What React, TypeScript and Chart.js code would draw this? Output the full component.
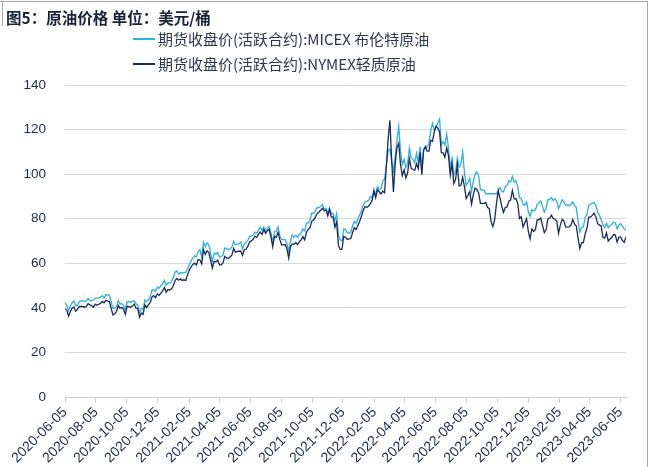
import React, { useEffect, useRef } from "react";
import { Chart, registerables } from "chart.js";

Chart.register(...registerables);

// ---- data ----
const START_DATE = "2020-06-05";
const STEP_DAYS = 3.5; // two observations per week (Fri / Tue)

const xTickLabels = [
  "2020-06-05", "2020-08-05", "2020-10-05", "2020-12-05",
  "2021-02-05", "2021-04-05", "2021-06-05", "2021-08-05",
  "2021-10-05", "2021-12-05", "2022-02-05", "2022-04-05",
  "2022-06-05", "2022-08-05", "2022-10-05", "2022-12-05",
  "2023-02-05", "2023-04-05", "2023-06-05",
];

const Y_MIN = 0;
const Y_MAX = 140;
const Y_STEP = 20;

const seriesNames = [
  "期货收盘价(活跃合约):MICEX 布伦特原油",
  "期货收盘价(活跃合约):NYMEX轻质原油",
];

// MICEX Brent
const micex2020 = [
  42.3, 41.2, 38.7, 40.9, 42.2, 43.1, 41.0, 41.2,
  42.8, 43.1, 43.2, 42.9, 43.1, 44.3, 43.3, 43.2, 43.5,
  44.4, 44.4, 44.5, 44.8, 45.5, 44.4, 45.9, 45.8,
  45.6, 42.7, 39.8, 39.8, 40.5, 43.2, 41.7, 41.9, 41.0,
  39.3, 42.7, 42.9, 42.45, 42.9, 43.2, 41.8, 41.2, 37.9,
  39.7, 39.45, 43.6, 42.8, 43.75, 44.96, 48.0, 48.2,
  47.4, 49.25, 48.8, 50.0, 50.8, 52.3, 50.1, 51.2, 51.1,
  51.8,
];
const micex2021 = [
  53.6, 56.0, 56.6, 55.1, 55.9, 55.4, 55.9, 55.9,
  57.5, 59.3, 61.1, 62.4, 63.35, 62.9, 65.4, 66.1,
  62.7, 69.4, 67.5, 69.2, 68.4, 64.5, 60.8, 64.6, 64.1,
  64.9, 62.7, 62.95, 63.7, 66.8, 66.6, 66.1, 66.4, 67.25,
  69.9, 68.3, 68.55, 68.7, 69.5, 66.4, 68.65, 69.6,
  70.25, 71.9, 72.2, 72.7, 73.99, 73.5, 74.8, 76.2, 74.8,
  76.2, 74.5, 75.55, 76.5, 73.6, 69.35, 74.1, 74.5, 76.3,
  72.4, 70.7, 70.6, 70.6, 69.0, 65.2, 70.05, 72.7, 71.6,
  72.6, 71.7, 72.9, 73.6, 75.3, 74.4, 78.1, 78.1,
  79.3, 82.6, 82.4, 83.4, 84.9, 85.1, 85.5, 86.4, 84.4,
  84.7, 82.7, 84.8, 82.2, 82.4, 78.9, 82.3, 72.7, 70.6,
  69.9, 75.4, 75.15, 73.7, 73.5, 73.98, 76.85, 78.9, 77.8,
];
const micex2022 = [
  80.0, 81.75, 83.7, 86.1, 87.5, 87.9, 88.2, 90.0,
  89.2, 93.3, 90.8, 94.4, 93.3, 93.5, 96.8, 97.9,
  104.0, 110.0, 111.5, 106.0, 101.5, 107.9, 115.5, 121.5, 110.2,
  104.4, 106.6, 102.8, 104.6, 111.7, 107.25, 106.65, 104.99, 109.3,
  104.97, 112.4, 102.5, 111.55, 111.9, 112.55, 113.6, 119.4, 122.8,
  119.7, 121.0, 123.0, 124.8, 113.1, 114.65, 113.1, 117.98,
  111.6, 102.8, 107.0, 99.5, 101.2, 107.35, 103.2, 104.4, 110.0,
  100.5, 94.9, 96.3, 98.15, 92.3, 96.7, 100.2, 100.99, 99.3,
  93.0, 92.8, 92.8, 91.2, 91.2, 91.2, 91.2, 91.2, 91.2,
  91.2, 92.5, 94.0, 92.5, 92.0, 94.5, 95.0, 97.0,
  96.5, 99.0, 96.5, 97.0, 94.5, 89.5, 89.0, 86.5, 86.0,
  87.5, 83.0, 81.0, 84.0, 83.5, 84.0, 86.5, 87.0, 88.0,
];
const micex2023 = [
  85.5, 83.0, 84.5, 88.5, 88.8, 89.5, 88.2, 89.0, 87.8,
  84.5, 86.5, 88.5, 87.5, 86.0, 86.3, 85.8, 86.5,
  87.5, 86.0, 85.0, 79.0, 74.0, 76.0, 76.5, 80.5, 82.0,
  86.0, 86.5, 87.0, 87.3, 86.0, 83.0, 81.5, 79.5,
  77.5, 76.0, 78.0, 76.0, 77.0, 77.5, 78.5, 78.0, 75.5,
  77.0, 77.8, 76.5, 75.5, 74.8,
];

// NYMEX WTI
const nymex2020 = [
  39.6, 38.9, 36.3, 38.4, 39.8, 40.4, 38.5, 39.3,
  40.6, 40.6, 40.6, 40.3, 40.6, 41.9, 41.3, 41.0, 40.3,
  41.7, 41.2, 41.6, 42.0, 42.9, 42.3, 43.4, 43.0,
  42.8, 39.8, 36.8, 37.3, 38.3, 41.1, 39.8, 40.25, 39.3,
  37.05, 40.7, 40.6, 40.2, 40.9, 41.7, 39.85, 39.6, 35.8,
  37.7, 37.1, 41.4, 40.1, 41.4, 42.4, 44.9, 45.5,
  44.55, 46.3, 45.6, 46.6, 47.6, 49.1, 47.0, 48.2, 48.0,
  48.5,
];
const nymex2021 = [
  49.9, 52.2, 53.2, 52.4, 52.98, 52.3, 52.6, 52.2,
  54.8, 56.85, 58.4, 59.5, 60.05, 59.2, 61.7, 61.5,
  59.75, 66.1, 64.0, 65.6, 64.8, 61.4, 57.8, 60.97, 60.55,
  61.45, 59.3, 59.3, 60.2, 63.1, 62.4, 62.1, 62.9, 63.6,
  66.7, 64.9, 65.3, 65.4, 65.5, 63.6, 66.1, 66.3,
  67.7, 69.6, 70.05, 70.9, 72.1, 71.6, 73.1, 74.05, 72.98,
  75.2, 73.4, 74.6, 75.25, 71.8, 67.4, 72.1, 71.65, 73.95,
  70.6, 68.3, 68.3, 68.4, 66.6, 62.3, 67.5, 68.7, 68.5,
  69.3, 68.35, 69.7, 70.5, 71.97, 70.5, 73.98, 75.3,
  75.9, 78.9, 79.35, 80.6, 82.3, 83.0, 83.8, 84.65, 83.6,
  83.9, 81.3, 84.15, 80.8, 80.8, 76.1, 78.5, 68.15, 66.2,
  66.3, 72.05, 71.7, 70.7, 70.9, 71.1, 73.8, 75.98, 75.2,
];
const nymex2022 = [
  77.0, 78.9, 81.2, 83.8, 85.4, 85.1, 85.6, 86.8,
  88.2, 92.3, 89.4, 93.1, 92.1, 91.1, 92.4, 91.6,
  103.4, 115.7, 124.2, 106.3, 92.0, 104.7, 111.8, 113.9, 104.2,
  99.3, 101.96, 98.3, 100.6, 106.95, 102.6, 102.1, 101.7, 104.7,
  102.4, 109.8, 99.8, 110.5, 112.4, 110.3, 110.3, 115.1, 114.7,
  118.9, 121.5, 120.7, 118.9, 109.6, 109.5, 107.6, 111.8,
  108.4, 99.5, 104.8, 95.8, 97.6, 104.2, 94.7, 94.98, 98.6,
  94.4, 89.0, 90.5, 92.1, 86.5, 90.8, 93.7, 93.1, 91.6,
  86.9, 86.9, 86.8, 87.3, 85.1, 84.45, 78.7, 76.5, 79.5,
  86.5, 92.6, 89.35, 85.6, 82.8, 85.05, 85.3, 87.9,
  88.4, 92.6, 88.9, 88.96, 86.9, 80.1, 80.95, 76.3, 78.2,
  79.98, 74.25, 71.0, 75.4, 74.3, 75.2, 79.6, 79.5, 80.3,
];
const nymex2023 = [
  76.9, 73.8, 75.1, 79.9, 80.2, 81.6, 80.1, 79.7, 78.9,
  73.4, 77.1, 79.7, 79.1, 76.3, 76.2, 76.3, 77.1,
  79.7, 77.6, 76.7, 71.3, 66.7, 69.3, 69.3, 73.2, 75.7,
  80.7, 80.7, 81.5, 82.5, 80.9, 77.9, 77.1, 76.8,
  71.7, 71.3, 73.7, 70.0, 70.9, 71.55, 72.9, 72.7, 69.5,
  71.7, 71.7, 70.2, 69.4, 71.8,
];

const micexBrent = [...micex2020, ...micex2021, ...micex2022, ...micex2023];
const nymexWti = [...nymex2020, ...nymex2021, ...nymex2022, ...nymex2023];

// ---- helpers ----
const DAY_MS = 86400000;
const dayOffset = (s: string) =>
  Math.round((Date.parse(s) - Date.parse(START_DATE)) / DAY_MS);
const toPoints = (vals: number[]) => vals.map((y, i) => ({ x: i * STEP_DAYS, y }));

const COLOR_LIGHT = "#2eaee4";
const COLOR_DARK = "#1b2a5e";
const TEXT_DARK = "#1f2a48";

export default function App() {
  const canvasRef = useRef<HTMLCanvasElement | null>(null);

  useEffect(() => {
    if (!canvasRef.current) return;
    const tickDays = xTickLabels.map(dayOffset);
    const xMax = (Math.max(micexBrent.length, nymexWti.length) - 1) * STEP_DAYS;
    const chart = new Chart(canvasRef.current, {
      type: "line",
      data: {
        datasets: [
          {
            label: seriesNames[0],
            data: toPoints(micexBrent),
            borderColor: COLOR_LIGHT,
            backgroundColor: COLOR_LIGHT,
            borderWidth: 1.3,
            pointRadius: 0,
            tension: 0,
            order: 1,
          },
          {
            label: seriesNames[1],
            data: toPoints(nymexWti),
            borderColor: COLOR_DARK,
            backgroundColor: COLOR_DARK,
            borderWidth: 1.3,
            pointRadius: 0,
            tension: 0,
            order: 0,
          },
        ],
      },
      options: {
        animation: false,
        responsive: false,
        maintainAspectRatio: false,
        layout: { padding: { top: 85, right: 27, bottom: 0, left: 0 } },
        plugins: {
          legend: { display: false },
          tooltip: { enabled: false },
          title: { display: false },
        },
        scales: {
          x: {
            type: "linear",
            min: 0,
            max: xMax,
            afterBuildTicks: (scale: any) => {
              scale.ticks = tickDays.map((v) => ({ value: v }));
            },
            afterFit: (scale: any) => {
              scale.height = 70;
            },
            ticks: {
              autoSkip: false,
              minRotation: 45,
              maxRotation: 45,
              padding: 1,
              color: TEXT_DARK,
              font: { family: "Liberation Sans, Arial, sans-serif", size: 14 },
              callback: (_v: any, i: number) => xTickLabels[i],
            },
            grid: {
              drawOnChartArea: false,
              drawTicks: true,
              tickLength: 6,
              color: "#cfcfcf",
            },
            border: { display: true, color: "#cfcfcf", width: 1 },
          },
          y: {
            min: Y_MIN,
            max: Y_MAX,
            afterFit: (scale: any) => {
              scale.width = 65;
            },
            ticks: {
              stepSize: Y_STEP,
              padding: 19,
              color: TEXT_DARK,
              font: { family: "Liberation Sans, Arial, sans-serif", size: 13.5 },
            },
            grid: { color: "#d9d9d9", drawTicks: false, lineWidth: 1 },
            border: { display: false },
          },
        },
      },
    });
    return () => chart.destroy();
  }, []);

  const legendRow = (top: number, color: string, text: string) => (
    <div
      style={{
        position: "absolute",
        left: 133,
        top,
        height: 20,
        display: "flex",
        alignItems: "center",
        whiteSpace: "nowrap",
      }}
    >
      <div style={{ width: 22, height: 2, background: color, marginRight: 3 }} />
      <span
        style={{
          fontFamily: "'Noto Sans CJK SC', sans-serif",
          fontSize: 15,
          color: "#2f3650",
          lineHeight: "20px",
        }}
      >
        {text}
      </span>
    </div>
  );

  return (
    <div
      style={{
        position: "fixed",
        left: 0,
        top: 0,
        width: 653,
        height: 467,
        background: "#ffffff",
        overflow: "hidden",
      }}
    >
      <canvas
        ref={canvasRef}
        width={653}
        height={467}
        style={{ position: "absolute", left: 0, top: 0, width: 653, height: 467 }}
      />
      <div style={{ position: "absolute", left: 0, top: 1, width: 648, height: 1, background: "#a8a8a8" }} />
      <div style={{ position: "absolute", left: 647, top: 1, width: 1, height: 466, background: "#a8a8a8" }} />
      <div style={{ position: "absolute", left: 2, top: 1, width: 1, height: 25, background: "#a8a8a8" }} />
      <div
        style={{
          position: "absolute",
          left: 6,
          top: 7,
          fontFamily: "'Noto Sans CJK SC', sans-serif",
          fontWeight: 700,
          fontSize: 15.5,
          lineHeight: "20px",
          color: "#1a2238",
          whiteSpace: "nowrap",
        }}
      >
        图5：原油价格 单位：美元/桶
      </div>
      {legendRow(29, COLOR_LIGHT, seriesNames[0])}
      {legendRow(54, COLOR_DARK, seriesNames[1])}
    </div>
  );
}
